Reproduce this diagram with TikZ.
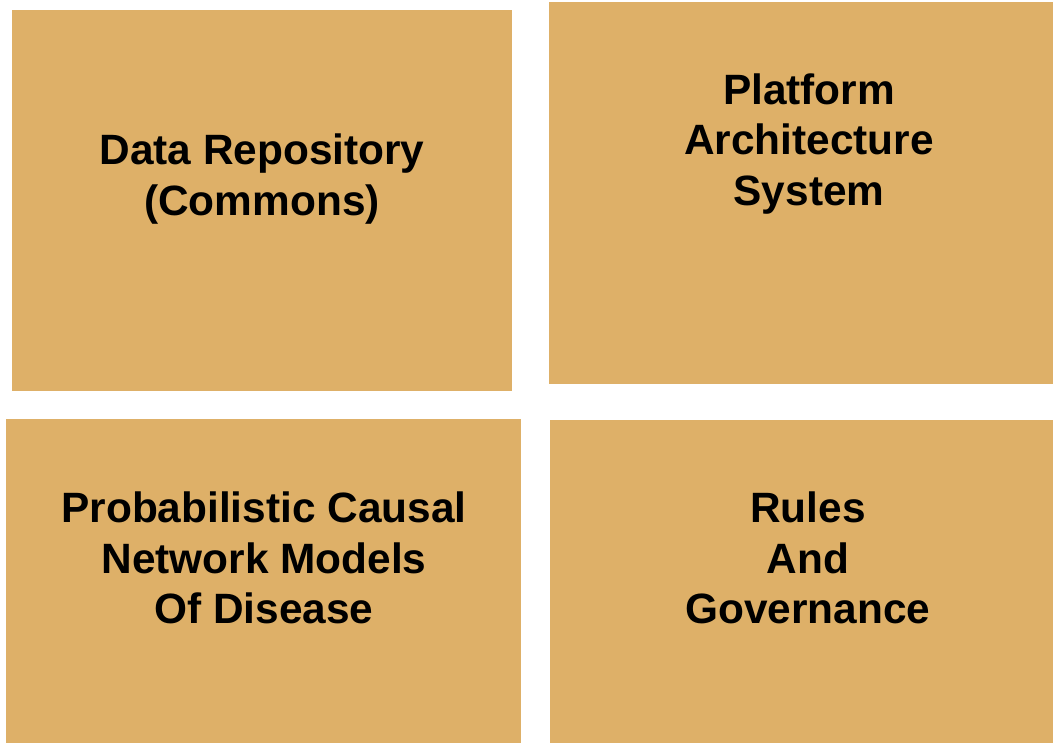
\documentclass[tikz,border=0pt]{standalone}
\usepackage{fontspec}
\setmainfont{Liberation Sans}
\definecolor{tile}{HTML}{DEB068}
\begin{document}
\begin{tikzpicture}[
    x=1pt, y=-1pt,
    tile/.style={rectangle, fill=tile, draw=none, inner sep=0pt, anchor=north west},
    caption/.style={align=center, inner sep=0pt, font=\fontsize{42.4}{50.5}\selectfont\bfseries}
]
    \useasboundingbox (0,0) rectangle (1053,743);

    % four tiles
    \node[tile, minimum width=500pt, minimum height=381pt] (repo) at (12,10) {};
    \node[tile, minimum width=504pt, minimum height=382pt] (platform) at (549,2) {};
    \node[tile, minimum width=515pt, minimum height=324pt] (models) at (6,419) {};
    \node[tile, minimum width=503pt, minimum height=323pt] (rules) at (550,420) {};

    % captions
    \node[caption] (repotext) at (262,179) {Data Repository\\(Commons)};
    \node[caption] (platformtext) at (809,144) {Platform\\Architecture\\System};
    \node[caption] (modelstext) at (264,558) {Probabilistic Causal\\Network Models\\Of Disease};
    \node[caption] (rulestext) at (808,558) {Rules\\And\\Governance};
\end{tikzpicture}
\end{document}
